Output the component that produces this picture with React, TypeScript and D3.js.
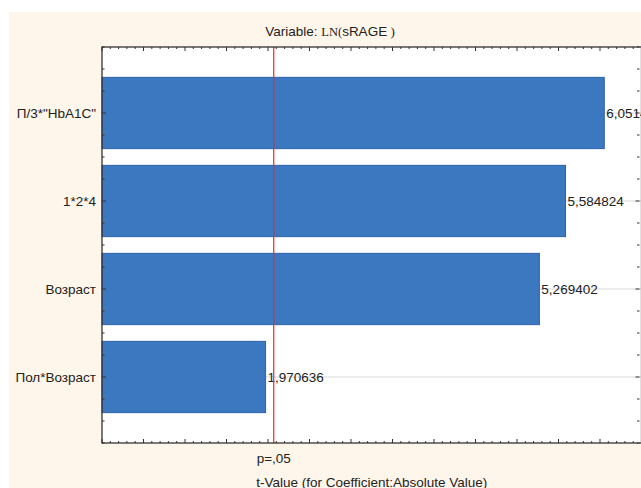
import React from "react";
import * as d3 from "d3";

// Predictors and their absolute t-values
const categories = ['П/3*"HbA1C"', "1*2*4", "Возраст", "Пол*Возраст"];
const tValues = [6.05142, 5.584824, 5.269402, 1.970636];
// Critical t-value for p = .05
const criticalT = 2.069;
const criticalLabel = "p=,05";
const xTitle = "t-Value (for Coefficient:Absolute Value)";

const W = 641;
const H = 488;
const plot = { left: 102, top: 47, right: 641.5, bottom: 443 };
const FONT = "'Liberation Sans', Arial, sans-serif";
const SERIF = "'Liberation Serif', 'Times New Roman', serif";
const FS = 13.5;

export default function App() {
  const x = d3.scaleLinear().domain([0, 6.5]).range([plot.left, plot.right]);
  const y = d3
    .scaleLinear()
    .domain([0.25, categories.length + 0.75])
    .range([plot.top, plot.bottom]);
  const barH = y(0.81) - y(0);

  const xMinor = d3.range(0, 6.5001, 0.1);
  const yMinor = d3.range(0.25, categories.length + 0.7501, 0.25);
  const isMajorX = (v: number) => Math.abs(v * 2 - Math.round(v * 2)) < 1e-6;
  const isMajorY = (v: number) => Math.abs(v - Math.round(v)) < 1e-6;
  const fmt = (v: number) => v.toFixed(6).replace(".", ",");

  return (
    <svg
      width={W}
      height={H}
      style={{ position: "fixed", left: 0, top: 0, background: "#fff" }}
      fontFamily={FONT}
    >
      <rect x={9} y={12} width={W - 9} height={H - 12} fill="#fef6ea" />
      <rect
        x={plot.left}
        y={plot.top}
        width={plot.right - plot.left}
        height={plot.bottom - plot.top}
        fill="#fff"
      />
      {/* title */}
      <text x={330} y={35.5} textAnchor="middle" fontSize={FS} fill="#222">
        <tspan>Variable: </tspan>
        <tspan fontFamily={SERIF} fontSize={12.5}>
          LN(
        </tspan>
        <tspan>sRAGE</tspan>
        <tspan fontFamily={SERIF} fontSize={13}>
          {" )"}
        </tspan>
      </text>

      {/* horizontal guide lines at each category */}
      {categories.map((c, i) => (
        <line
          key={"g" + c}
          x1={plot.left}
          x2={plot.right}
          y1={y(i + 1)}
          y2={y(i + 1)}
          stroke="#d9d9d9"
          strokeWidth={1}
        />
      ))}

      {/* bars */}
      {categories.map((c, i) => (
        <rect
          key={"b" + c}
          x={x(0)}
          y={y(i + 1) - barH / 2}
          width={x(tValues[i]) - x(0)}
          height={barH}
          fill="#3b78c0"
          stroke="#2a5fa8"
          strokeWidth={1}
        />
      ))}

      {/* value labels */}
      {categories.map((c, i) => (
        <text
          key={"v" + c}
          x={x(tValues[i]) + 2}
          y={y(i + 1) + 5}
          fontSize={FS}
          fill="#222"
        >
          {fmt(tValues[i])}
        </text>
      ))}

      {/* critical value line */}
      <line
        x1={x(criticalT)}
        x2={x(criticalT)}
        y1={plot.top}
        y2={plot.bottom}
        stroke="#ee2a24"
        strokeWidth={1.2}
      />

      {/* frame */}
      <rect
        x={plot.left}
        y={plot.top}
        width={plot.right - plot.left}
        height={plot.bottom - plot.top}
        fill="none"
        stroke="#333"
        strokeWidth={1.3}
      />

      {/* x ticks on bottom and top, pointing inward */}
      {xMinor.map((v) => {
        const len = isMajorX(v) ? 4 : 2;
        return (
          <g key={"xt" + v.toFixed(2)} stroke="#333" strokeWidth={1}>
            <line x1={x(v)} x2={x(v)} y1={plot.bottom} y2={plot.bottom - len} />
            <line x1={x(v)} x2={x(v)} y1={plot.top} y2={plot.top + len} />
          </g>
        );
      })}

      {/* y ticks on left and right, pointing inward */}
      {yMinor.map((v) => {
        const len = isMajorY(v) ? 4 : 2.5;
        return (
          <g key={"yt" + v.toFixed(2)} stroke="#333" strokeWidth={1}>
            <line x1={plot.left} x2={plot.left + len} y1={y(v)} y2={y(v)} />
            <line x1={plot.right - 2} x2={plot.right - 2 - len} y1={y(v)} y2={y(v)} />
          </g>
        );
      })}

      {/* category labels */}
      {categories.map((c, i) => (
        <text
          key={"c" + c}
          x={plot.left - 6}
          y={y(i + 1) + 5}
          textAnchor="end"
          fontSize={FS}
          fill="#222"
        >
          {c}
        </text>
      ))}

      {/* critical value label and axis title */}
      <text x={x(criticalT)} y={463} textAnchor="middle" fontSize={FS} fill="#222">
        {criticalLabel}
      </text>
      <text
        x={(plot.left + plot.right) / 2}
        y={487}
        textAnchor="middle"
        fontSize={FS}
        fill="#222"
      >
        {xTitle}
      </text>
    </svg>
  );
}
